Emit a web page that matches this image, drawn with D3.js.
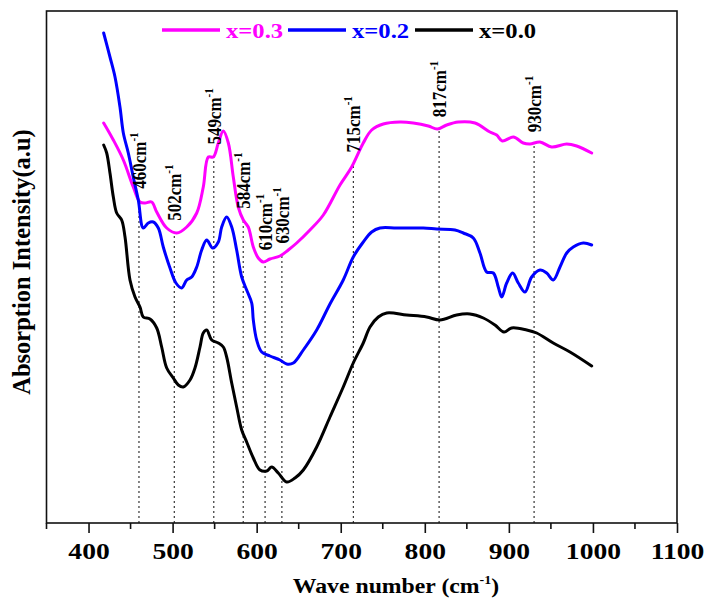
<!DOCTYPE html>
<html>
<head>
<meta charset="utf-8">
<script src="https://cdn.jsdelivr.net/npm/d3@7"></script>
<style>
  body { margin: 0; background: #fff; }
  svg { display: block; }
  text { font-family: "Liberation Serif", "Times New Roman", serif; font-weight: bold; }
</style>
</head>
<body>
<svg id="chart" width="707" height="608"></svg>
<script>
// FTIR absorption spectra (arbitrary units, curves offset vertically)
const seriesNames = ["x=0.3", "x=0.2", "x=0.0"];
const seriesColors = ["#ff00ff", "#0000ff", "#000000"];

const waveX03 = [418, 429.5, 441.4, 453.2, 461.2, 467.2, 475.1, 481.1, 493, 504.9, 516.8, 528.7, 536.5, 542.5, 548.4, 554.4, 560.3, 566.3, 572.2, 578.1, 584.1, 590, 596, 601.9, 607.9, 615.8, 627.7, 637.6, 647.6, 663.4, 679.3, 699.1, 713, 726.8, 736.8, 750.6, 770.5, 786.3, 804.2, 814.9, 826, 839.8, 859.7, 877.5, 885.5, 892.2, 905.3, 917.1, 925.1, 937, 950.9, 968.8, 980.7, 998.5];
const absX03  = [400, 383, 363, 336, 321, 320, 321, 311, 295, 290, 296, 310, 336, 366, 366, 380, 392, 380, 346, 316, 303, 296, 276, 265, 261, 264, 267, 273, 280, 293, 308, 338, 356, 380, 393, 399, 401, 400, 397, 394, 398, 401, 400, 391, 388, 382, 386, 380, 379, 381, 376, 379, 377, 370];

const waveX02 = [418, 425.5, 431.5, 437.4, 441.4, 447.3, 453.2, 459.2, 465.1, 471.1, 477, 483, 488.9, 496.9, 504, 510.8, 516.8, 522.7, 528.7, 534.6, 540.6, 547.7, 554.4, 558.4, 564.3, 570.3, 576.2, 582.2, 588.1, 594.1, 596, 600, 606, 615.8, 627.7, 635.7, 643.6, 655.5, 671.4, 687.2, 703, 714.9, 726.8, 736.8, 746.7, 766.6, 798.2, 814.1, 835.9, 845.8, 857.7, 865.6, 873.6, 881.5, 887.4, 891.5, 897.4, 904.5, 911.2, 919.2, 927.1, 937, 945, 952.8, 960.8, 968.8, 976.6, 988.5, 998.5];
const absX02  = [490, 466, 446, 416, 390, 370, 346, 323, 295, 300, 301, 295, 276, 255, 240, 235, 243, 246, 256, 273, 283, 275, 281, 296, 306, 296, 273, 246, 233, 220, 203, 183, 171, 167, 163, 159, 160, 173, 193, 219, 243, 266, 281, 291, 295, 295, 295, 294, 293, 290, 285, 270, 251, 250, 236, 226, 240, 250, 240, 231, 246, 253, 250, 243, 256, 270, 276, 280, 278];

const waveX00 = [418, 421.6, 425.5, 429.5, 433.5, 439.4, 443.4, 449.3, 455.3, 461.2, 465.1, 473.1, 481.1, 487, 493, 500.8, 506.8, 512.7, 520.7, 526.6, 532.6, 536.5, 540.6, 546.5, 554.4, 560.3, 564.3, 570.3, 576.2, 582.2, 588.1, 596, 604, 611.9, 617.9, 625.7, 635.7, 645.6, 655.5, 671.4, 687.2, 703, 714.9, 726.8, 734.8, 744.7, 754.7, 778.5, 802.2, 818.1, 837.9, 853.7, 869.6, 883.5, 894.2, 903.4, 921.2, 933.1, 952.8, 972.7, 998.5];
const absX00  = [378, 370, 350, 326, 310, 303, 286, 243, 226, 216, 206, 204, 195, 176, 155, 145, 138, 136, 143, 155, 176, 190, 193, 183, 180, 176, 166, 140, 116, 93, 81, 65, 53, 52, 56, 50, 41, 45, 53, 76, 106, 136, 160, 180, 196, 206, 210, 208, 206, 203, 208, 209, 205, 198, 191, 195, 193, 190, 180, 171, 157];

// Marked absorption bands and the spectrum each guide line reaches up to
const bandWaves = [460, 502, 549, 584, 610, 630, 715, 817, 930];
const bandReach = ["x=0.2", "x=0.3", "x=0.3", "x=0.3", "x=0.3", "x=0.3", "x=0.3", "x=0.3", "x=0.3"];

const xMajorTicks = [400, 500, 600, 700, 800, 900, 1000, 1100];
const xMinorTicks = [350, 450, 550, 650, 750, 850, 950, 1050];

const series = [
  { name: seriesNames[0], color: seriesColors[0], wave: waveX03, abs: absX03 },
  { name: seriesNames[1], color: seriesColors[1], wave: waveX02, abs: absX02 },
  { name: seriesNames[2], color: seriesColors[2], wave: waveX00, abs: absX00 }
];

const svg = d3.select("#chart");
const plot = { left: 46.5, right: 677, top: 11, bottom: 523 };

const x = d3.scaleLinear().domain([350, 1100]).range([plot.left, plot.right]);
const y = d3.scaleLinear().domain([0, 512]).range([plot.bottom, plot.top]);

// wide bold serif lettering
const stretch = 1.15;

// value of a spectrum at a given wavenumber (linear between samples)
function valueAt(s, w) {
  const i = d3.bisectLeft(s.wave, w);
  if (i <= 0) return s.abs[0];
  if (i >= s.wave.length) return s.abs[s.abs.length - 1];
  const t = (w - s.wave[i - 1]) / (s.wave[i] - s.wave[i - 1]);
  return s.abs[i - 1] + t * (s.abs[i] - s.abs[i - 1]);
}

// band guide lines
const bandG = svg.append("g");
bandWaves.forEach((w, k) => {
  const s = series.find(d => d.name === bandReach[k]);
  bandG.append("line")
    .attr("x1", x(w)).attr("x2", x(w))
    .attr("y1", plot.bottom).attr("y2", y(valueAt(s, w)))
    .attr("stroke", "#222").attr("stroke-width", 1.1)
    .attr("stroke-dasharray", "2,3");
});

// spectra
const line = d3.line()
  .x(d => x(d[0]))
  .y(d => y(d[1]))
  .curve(d3.curveCatmullRom.alpha(0.5));

series.forEach(s => {
  svg.append("path")
    .datum(s.wave.map((w, i) => [w, s.abs[i]]))
    .attr("d", line)
    .attr("fill", "none")
    .attr("stroke", s.color)
    .attr("stroke-width", 3)
    .attr("stroke-linejoin", "round")
    .attr("stroke-linecap", "round");
});

// band labels, rotated, sitting above the top spectrum
const topSeries = series[0];
const labelG = svg.append("g");
bandWaves.forEach(w => {
  const yb = y(valueAt(topSeries, w)) - 11;
  const t = labelG.append("text")
    .attr("transform", `translate(${x(w) + 7},${yb}) rotate(-90) scale(1,${stretch})`)
    .attr("font-size", 17);
  t.append("tspan").text(w + "cm");
  t.append("tspan").attr("font-size", 11).attr("dy", -7).text("-1");
});

// frame
svg.append("rect")
  .attr("x", plot.left).attr("y", plot.top)
  .attr("width", plot.right - plot.left).attr("height", plot.bottom - plot.top)
  .attr("fill", "none").attr("stroke", "#111").attr("stroke-width", 1.6);

// x axis
const xAxis = d3.axisBottom(x).tickValues(xMajorTicks).tickSize(10).tickPadding(10).tickFormat(d3.format("d"));
const gx = svg.append("g").attr("transform", `translate(0,${plot.bottom})`).call(xAxis);
gx.select(".domain").remove();
gx.selectAll(".tick line").attr("stroke", "#111").attr("stroke-width", 1.6);
gx.selectAll(".tick text")
  .attr("font-size", 23).attr("fill", "#000")
  .attr("font-family", "'Liberation Serif','Times New Roman',serif").attr("font-weight", "bold")
  .attr("transform", `scale(${stretch + 0.05},1)`);
svg.append("g").selectAll("line").data(xMinorTicks).join("line")
  .attr("x1", d => x(d)).attr("x2", d => x(d))
  .attr("y1", plot.bottom).attr("y2", plot.bottom + 6)
  .attr("stroke", "#111").attr("stroke-width", 1.6);

// axis titles
const xt = svg.append("text")
  .attr("transform", `translate(396,593) scale(1.08,1)`)
  .attr("text-anchor", "middle").attr("font-size", 22);
xt.append("tspan").text("Wave number (cm");
xt.append("tspan").attr("font-size", 13).attr("dy", -9).text("-1");
xt.append("tspan").attr("dy", 9).text(")");

svg.append("text")
  .attr("transform", `translate(30,262) rotate(-90)`)
  .attr("text-anchor", "middle").attr("font-size", 24.5)
  .text("Absorption Intensity(a.u)");

// legend
const legendX = [162, 288, 415];
const legend = svg.append("g");
series.forEach((s, i) => {
  const lx = legendX[i];
  legend.append("line")
    .attr("x1", lx).attr("x2", lx + 58).attr("y1", 30).attr("y2", 30)
    .attr("stroke", s.color).attr("stroke-width", 3.5);
  legend.append("text")
    .attr("transform", `translate(${lx + 64},38) scale(1.12,1)`)
    .attr("font-size", 22).attr("fill", s.color)
    .text(s.name);
});
</script>
</body>
</html>
